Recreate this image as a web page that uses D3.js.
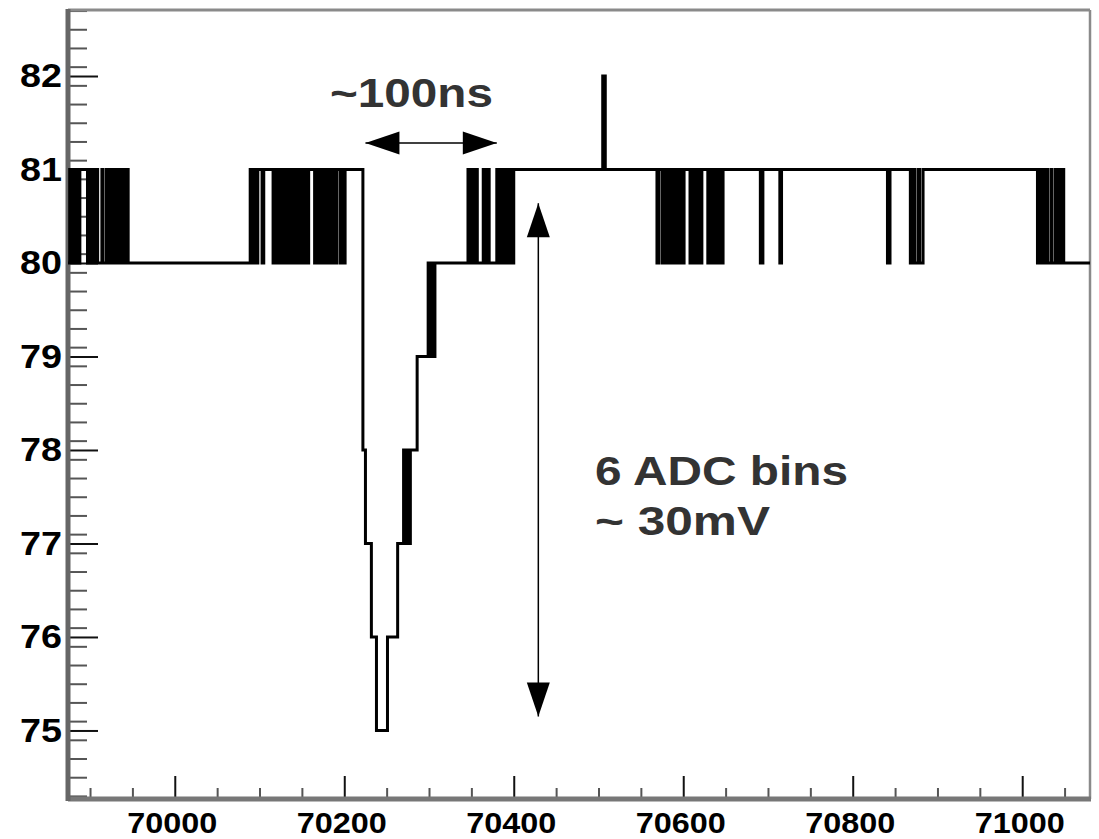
<!DOCTYPE html>
<html>
<head>
<meta charset="utf-8">
<script src="https://cdn.jsdelivr.net/npm/d3@7"></script>
<style>
  html, body { margin: 0; padding: 0; background: #fff; }
  svg { display: block; }
  text { font-family: "Liberation Sans", Arial, Helvetica, sans-serif; font-weight: bold; }
</style>
</head>
<body>
<svg id="chart" width="1099" height="839"></svg>
<script>
const stepTimes = [
  69872, 69876, 69878, 69880, 69882, 69884, 69886, 69888,
  69897, 69899, 69901, 69903, 69905, 69907, 69909,
  69914, 69915,
  69919, 69921, 69923, 69925, 69927, 69929, 69931, 69933, 69935, 69937, 69939, 69941, 69943, 69945,
  70089, 70092, 70094, 70096, 70098,
  70103, 70105,
  70116, 70118, 70120, 70122, 70124, 70126, 70128, 70130, 70132, 70134, 70136, 70138, 70140, 70142,
  70144, 70146, 70148, 70150, 70152, 70154, 70156, 70158,
  70165, 70167, 70169, 70171, 70173, 70175, 70177, 70179, 70181, 70183, 70185, 70187, 70189, 70191,
  70195, 70197, 70199, 70201,
  70222, 70225, 70232, 70238, 70251, 70263, 70270, 70272, 70274, 70276, 70278, 70286,
  70299, 70301, 70303, 70305, 70307,
  70346, 70348, 70350, 70352, 70354, 70357,
  70364, 70366, 70368, 70371,
  70380, 70382, 70384, 70386, 70388, 70390, 70392, 70394, 70396, 70398, 70400,
  70505, 70508,
  70569, 70571,
  70575, 70577, 70579, 70581, 70583, 70585, 70587, 70589, 70591, 70593, 70595, 70597, 70599, 70601,
  70608, 70610, 70612, 70614, 70616, 70618, 70620, 70622,
  70629, 70631, 70633, 70635, 70637, 70639, 70641, 70643, 70645, 70647,
  70691, 70694,
  70714, 70716,
  70841, 70844,
  70868, 70871, 70873, 70877, 70879, 70883,
  71018, 71020, 71022, 71024, 71026, 71028, 71030, 71034, 71035, 71039, 71041, 71043, 71045, 71047, 71049,
  71085
];
const stepCounts = [
  80, 81, 80, 81, 80, 81, 80, 81,
  80, 81, 80, 81, 80, 81, 80,
  81, 80,
  81, 80, 81, 80, 81, 80, 81, 80, 81, 80, 81, 80, 81, 80,
  81, 80, 81, 80, 81,
  80, 81,
  80, 81, 80, 81, 80, 81, 80, 81, 80, 81, 80, 81, 80, 81,
  80, 81, 80, 81, 80, 81, 80, 81,
  80, 81, 80, 81, 80, 81, 80, 81, 80, 81, 80, 81, 80, 81,
  80, 81, 80, 81,
  78, 77, 76, 75, 76, 77, 78, 77, 78, 77, 78, 79,
  80, 79, 80, 79, 80,
  81, 80, 81, 80, 81, 80,
  81, 80, 81, 80,
  81, 80, 81, 80, 81, 80, 81, 80, 81, 80, 81,
  82, 81,
  80, 81,
  80, 81, 80, 81, 80, 81, 80, 81, 80, 81, 80, 81, 80, 81,
  80, 81, 80, 81, 80, 81, 80, 81,
  80, 81, 80, 81, 80, 81, 80, 81, 80, 81,
  80, 81,
  80, 81,
  80, 81,
  80, 81, 80, 81, 80, 81,
  80, 81, 80, 81, 80, 81, 80, 81, 80, 81, 80, 81, 80, 81, 80,
  80
];

// Axis ranges and tick labels
const timeRange = [69874, 71080];
const countRange = [74.267, 82.706];
const timeMajorTicks = [70000, 70200, 70400, 70600, 70800, 71000];
const countMajorTicks = [75, 76, 77, 78, 79, 80, 81, 82];

// Annotations
const widthLabel = "~100ns";
const widthSpan = [70225, 70380];
const heightSpan = [80.64, 75.15];
const heightTime = 70429;
const heightLabels = ["6 ADC bins", "~ 30mV"];

const svg = d3.select("#chart");
const frame = { left: 68, right: 1090, top: 10, bottom: 799 };

const x = d3.scaleLinear().domain(timeRange).range([frame.left, frame.right]);
const y = d3.scaleLinear().domain(countRange).range([frame.bottom, frame.top]);

// minor tick positions
const timeMinorTicks = d3.range(69900, 71080, 50).filter(t => t % 200 !== 0);
const countMinorTicks = d3.range(743, 828, 2).map(v => v / 10).filter(v => Math.abs(v - Math.round(v)) > 1e-6);

// clip for the trace
svg.append("defs").append("clipPath").attr("id", "plotClip")
  .append("rect")
  .attr("x", frame.left).attr("y", frame.top)
  .attr("width", frame.right - frame.left).attr("height", frame.bottom - frame.top);

// ticks (drawn inward)
const yMinor = d3.axisLeft(y).tickValues(countMinorTicks).tickSize(-19).tickFormat("");
const yMajor = d3.axisLeft(y).tickValues(countMajorTicks).tickSize(-30).tickPadding(6).tickFormat(d3.format("d"));
const xMinor = d3.axisBottom(x).tickValues(timeMinorTicks).tickSize(-11).tickFormat("");
const xMajor = d3.axisBottom(x).tickValues(timeMajorTicks).tickSize(-23).tickPadding(13).tickFormat(d3.format("d"));

function styleAxis(g, color, width) {
  g.select(".domain").remove();
  g.selectAll(".tick line").attr("stroke", color).attr("stroke-width", width);
}

svg.append("g").attr("transform", `translate(${frame.left},0)`).call(yMinor).call(g => styleAxis(g, "#555", 2));
const yAx = svg.append("g").attr("transform", `translate(${frame.left},0)`).call(yMajor).call(g => styleAxis(g, "#111", 2));
svg.append("g").attr("transform", `translate(0,${frame.bottom})`).call(xMinor).call(g => styleAxis(g, "#555", 2));
const xAx = svg.append("g").attr("transform", `translate(0,${frame.bottom})`).call(xMajor).call(g => styleAxis(g, "#111", 2));

yAx.selectAll(".tick text")
  .attr("font-size", 33).attr("fill", "#000")
  .attr("font-family", '"Liberation Sans", Arial, sans-serif').attr("font-weight", "bold")
  .attr("textLength", 42).attr("lengthAdjust", "spacingAndGlyphs");
xAx.selectAll(".tick text")
  .attr("font-size", 30).attr("fill", "#000")
  .attr("font-family", '"Liberation Sans", Arial, sans-serif').attr("font-weight", "bold")
  .attr("dx", -3)
  .attr("textLength", 90).attr("lengthAdjust", "spacingAndGlyphs");

// frame lines
svg.append("line").attr("x1", frame.left).attr("x2", frame.right).attr("y1", frame.top).attr("y2", frame.top)
  .attr("stroke", "#8a8a8a").attr("stroke-width", 3);
svg.append("line").attr("x1", frame.right).attr("x2", frame.right).attr("y1", frame.top).attr("y2", frame.bottom)
  .attr("stroke", "#8a8a8a").attr("stroke-width", 2.5);
svg.append("line").attr("x1", frame.left).attr("x2", frame.right + 1).attr("y1", frame.bottom).attr("y2", frame.bottom)
  .attr("stroke", "#777").attr("stroke-width", 5);
svg.append("line").attr("x1", frame.left).attr("x2", frame.left).attr("y1", frame.top - 1).attr("y2", frame.bottom + 2)
  .attr("stroke", "#666").attr("stroke-width", 5);

// trace
const trace = stepTimes.map((t, i) => [t, stepCounts[i]]);
const line = d3.line().x(d => x(d[0])).y(d => y(d[1])).curve(d3.curveStepAfter);
svg.append("path")
  .datum(trace)
  .attr("clip-path", "url(#plotClip)")
  .attr("d", line)
  .attr("fill", "none")
  .attr("stroke", "#000")
  .attr("stroke-width", 3)
  .attr("stroke-linejoin", "miter");

// double-headed arrows
function arrowHead(tip, dir, len, half) {
  // dir: unit vector pointing toward the tip
  const [tx, ty] = tip;
  const [dx, dy] = dir;
  const bx = tx - dx * len, by = ty - dy * len;
  const px = -dy, py = dx;
  return [[tx, ty], [bx + px * half, by + py * half], [bx - px * half, by - py * half]];
}
function drawArrow(p1, p2) {
  const len = Math.hypot(p2[0] - p1[0], p2[1] - p1[1]);
  const u = [(p2[0] - p1[0]) / len, (p2[1] - p1[1]) / len];
  svg.append("line").attr("x1", p1[0]).attr("y1", p1[1]).attr("x2", p2[0]).attr("y2", p2[1])
    .attr("stroke", "#000").attr("stroke-width", 1.5);
  [arrowHead(p2, u, 34, 11.5), arrowHead(p1, [-u[0], -u[1]], 34, 11.5)].forEach(pts => {
    svg.append("polygon").attr("points", pts.map(p => p.join(",")).join(" ")).attr("fill", "#000");
  });
}
const arrowY = 143;
drawArrow([x(widthSpan[0]), arrowY], [x(widthSpan[1]), arrowY]);
drawArrow([x(heightTime), y(heightSpan[0])], [x(heightTime), y(heightSpan[1])]);

// annotation text
svg.append("text").attr("x", 330).attr("y", 107).text(widthLabel)
  .attr("font-size", 40).attr("fill", "#333")
  .attr("textLength", 163).attr("lengthAdjust", "spacingAndGlyphs");
svg.append("text").attr("x", 595).attr("y", 485).text(heightLabels[0])
  .attr("font-size", 40).attr("fill", "#333")
  .attr("textLength", 253).attr("lengthAdjust", "spacingAndGlyphs");
svg.append("text").attr("x", 595).attr("y", 535).text(heightLabels[1])
  .attr("font-size", 40).attr("fill", "#333")
  .attr("textLength", 175).attr("lengthAdjust", "spacingAndGlyphs");
</script>
</body>
</html>
